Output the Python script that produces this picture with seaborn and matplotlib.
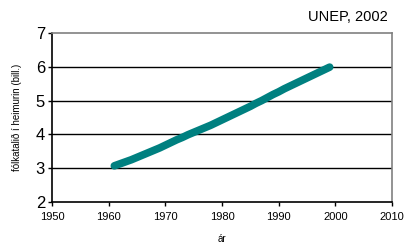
import matplotlib
matplotlib.use("Agg")
import matplotlib.pyplot as plt
import seaborn as sns
import pandas as pd

years = list(range(1961, 2000))
population = [3.07, 3.13, 3.19, 3.25, 3.32, 3.39, 3.46, 3.53, 3.60, 3.68,
              3.76, 3.84, 3.91, 3.99, 4.06, 4.13, 4.20, 4.27, 4.35, 4.43,
              4.51, 4.59, 4.67, 4.75, 4.83, 4.92, 5.00, 5.09, 5.18, 5.26,
              5.35, 5.43, 5.51, 5.59, 5.67, 5.75, 5.83, 5.91, 5.99]
xticks = [1950, 1960, 1970, 1980, 1990, 2000, 2010]
yticks = [2, 3, 4, 5, 6, 7]

df = pd.DataFrame({"year": years, "pop": population})

sns.set_theme(style="white")
plt.rcParams['font.family'] = ['Liberation Sans', 'DejaVu Sans']
plt.rcParams['text.color'] = 'black'
plt.rcParams['axes.labelcolor'] = 'black'
plt.rcParams['xtick.color'] = 'black'
plt.rcParams['ytick.color'] = 'black'

fig = plt.figure(figsize=(4.09, 2.46), dpi=100)
ax = fig.add_axes([52/409, 1 - 202/246, (392-52)/409, (202-33)/246])

for v in yticks[1:-1]:
    ax.axhline(v, color="black", lw=1.0, zorder=1)

sns.lineplot(data=df, x="year", y="pop", ax=ax, color="#008080", lw=5.5,
             solid_capstyle="round", zorder=3)

ax.set_xlim(1950, 2010)
ax.set_ylim(2, 7)
ax.set_xticks(xticks)
ax.set_yticks(yticks)
ax.set_xticklabels([str(t) for t in xticks], fontsize=8)
ax.set_yticklabels([str(t) for t in yticks], fontsize=12)
ax.tick_params(axis="both", direction="out", length=3, width=1, color="black",
               labelcolor="black", bottom=True, left=True, pad=2)
ax.tick_params(axis="x", pad=4)
ax.set_xlabel("ár", fontsize=7, labelpad=9, color="black")
ax.set_ylabel("fólkatalið í heimurin (bill.)", fontsize=7, labelpad=10, color="black")

for s in ["left", "bottom"]:
    ax.spines[s].set_color("black")
    ax.spines[s].set_linewidth(1.2)
for s in ["top", "right"]:
    ax.spines[s].set_color("#808080")
    ax.spines[s].set_linewidth(1.2)

fig.text(388/409, 1 - 21/246, "UNEP, 2002", ha="right", va="baseline", fontsize=10.5)

fig.savefig("out.png", dpi=100)
